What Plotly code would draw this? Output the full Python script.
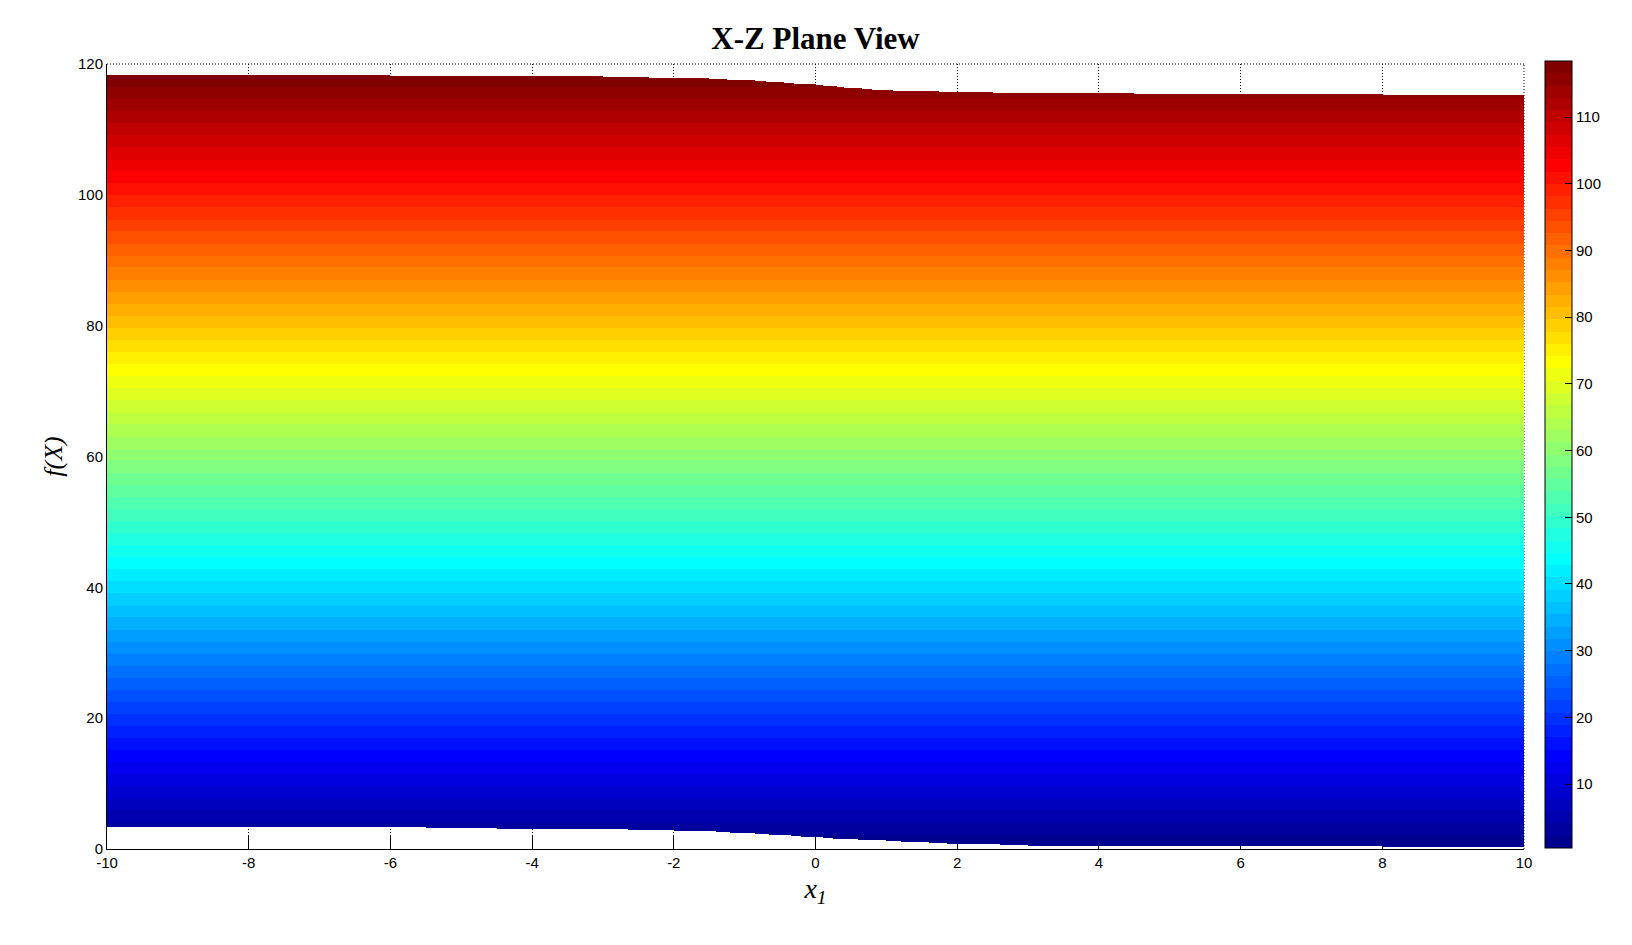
import numpy as np
import plotly.graph_objects as go

# ---- data ----
x1_knots = [-10, -8, -6, -5, -4, -3, -2, -1.5, -1, -0.5, 0, 0.5, 1, 1.5, 2, 3, 4, 5, 6, 8, 10]
f_top = [118.35, 118.3, 118.25, 118.2, 118.15, 118.05, 117.9, 117.75, 117.55, 117.2, 116.85,
         116.35, 116.0, 115.8, 115.7, 115.6, 115.5, 115.4, 115.38, 115.35, 115.35]
f_bottom = [3.3, 3.3, 3.3, 3.2, 3.1, 3.0, 2.85, 2.7, 2.45, 2.15, 1.8,
            1.5, 1.25, 1.0, 0.8, 0.55, 0.5, 0.45, 0.38, 0.35, 0.35]
x_ticks = [-10, -8, -6, -4, -2, 0, 2, 4, 6, 8, 10]
y_ticks = [0, 20, 40, 60, 80, 100, 120]
cbar_ticks = [10, 20, 30, 40, 50, 60, 70, 80, 90, 100, 110]

# ---- MATLAB jet(64) colormap ----
def jet(m=64):
    n = int(np.ceil(m / 4))
    u = np.concatenate([np.arange(1, n + 1) / n, np.ones(n - 1), np.arange(n, 0, -1) / n])
    g = int(np.ceil(n / 2)) - (1 if m % 4 == 1 else 0) + np.arange(1, len(u) + 1)
    r = g + n
    b = g - n
    g = g[g <= m]
    r = r[r <= m]
    b = b[b >= 1]
    J = np.zeros((m, 3))
    J[r - 1, 0] = u[:len(r)]
    J[g - 1, 1] = u[:len(g)]
    J[b - 1, 2] = u[len(u) - len(b):]
    return J

J = jet(64)
colorscale = []
for i, c in enumerate(J):
    col = "rgb(%d,%d,%d)" % tuple(np.round(c * 255).astype(int))
    colorscale.append([i / 64, col])
    colorscale.append([(i + 1) / 64, col])

# ---- surface seen from the X-Z plane: colour = f(X) ----
dx, dy = 0.05, 0.1
xc = np.arange(-10 + dx / 2, 10, dx)
yc = np.arange(dy / 2, 120, dy)
top_i = np.interp(xc, x1_knots, f_top)
bot_i = np.interp(xc, x1_knots, f_bottom)
Y, _ = np.meshgrid(yc, xc, indexing="ij")
Z = np.where((Y >= bot_i[None, :]) & (Y <= top_i[None, :]), Y, np.nan).astype(np.float32)

zmin, zmax = min(f_bottom), max(f_top)
W, H = 1616, 929  # page body has an 8px margin
PLOT_W = 1417
CB_X = (1537 - 99) / PLOT_W
CB_Y, CB_LEN = 0.502, 1.002

fig = go.Figure()
fig.add_trace(go.Heatmap(
    z=Z, x0=xc[0], dx=dx, y0=yc[0], dy=dy,
    colorscale=colorscale, zmin=zmin, zmax=zmax,
    zsmooth=False, hoverinfo="skip",
    colorbar=dict(
        x=CB_X, xanchor="left", xpad=0, thickness=27,
        y=CB_Y, yanchor="middle", len=CB_LEN, ypad=0,
        outlinecolor="black", outlinewidth=1,
        ticks="inside", ticklen=7, tickcolor="black",
        tickvals=cbar_ticks, ticktext=[str(v) for v in cbar_ticks],
        tickfont=dict(family="Arial, Liberation Sans", size=15, color="black"),
    ),
))

axis_common = dict(
    showline=True, linecolor="black", linewidth=1, mirror=False,
    ticks="inside", ticklen=14, tickcolor="black",
    showgrid=True, gridcolor="black", gridwidth=1, griddash="1px,2px",
    zeroline=False, layer="below traces",
    tickfont=dict(family="Arial, Liberation Sans", size=15, color="black"),
)

fig.update_xaxes(range=[-10, 10], tickvals=x_ticks, ticktext=[str(v) for v in x_ticks], **axis_common,
                 title=dict(text="<i>x</i><sub><i>1</i></sub>",
                            font=dict(family="Liberation Serif, Times New Roman, serif", size=28, color="black"),
                            standoff=8))
fig.update_yaxes(range=[0, 120], tickvals=y_ticks, ticktext=[str(v) for v in y_ticks], **axis_common,
                 title=dict(text="<i>f(X)</i>",
                            font=dict(family="Liberation Serif, Times New Roman, serif", size=26, color="black"),
                            standoff=7))

# dotted frame on top and right edges (MATLAB grid at the axis limits)
frame_style = dict(color="black", width=1, dash="1px,2px")
fig.add_shape(type="line", xref="paper", yref="paper", x0=0, x1=1, y0=1, y1=1,
              line=frame_style, layer="below")
fig.add_shape(type="line", xref="paper", yref="paper", x0=1, x1=1, y0=0, y1=1,
              line=frame_style, layer="below")

# inward ticks on the left edge of the colour bar (MATLAB draws both sides)
cb_bottom = CB_Y - CB_LEN / 2
for v in cbar_ticks:
    yp = cb_bottom + (v - zmin) / (zmax - zmin) * CB_LEN
    fig.add_shape(type="line", xref="paper", yref="paper",
                  x0=CB_X, x1=CB_X + 6 / PLOT_W, y0=yp, y1=yp,
                  line=dict(color="black", width=1), layer="above")

fig.update_layout(
    width=W, height=H,
    margin=dict(l=99, r=100, t=56, b=88),
    paper_bgcolor="white", plot_bgcolor="white",
    title=dict(text="<b>X-Z Plane View</b>", x=0.5, xref="paper", xanchor="center",
               y=1 - 30.5 / H, yanchor="middle",
               font=dict(family="Liberation Serif, Times New Roman, serif", size=31, color="black")),
    showlegend=False,
)

fig.write_html("out.html")
